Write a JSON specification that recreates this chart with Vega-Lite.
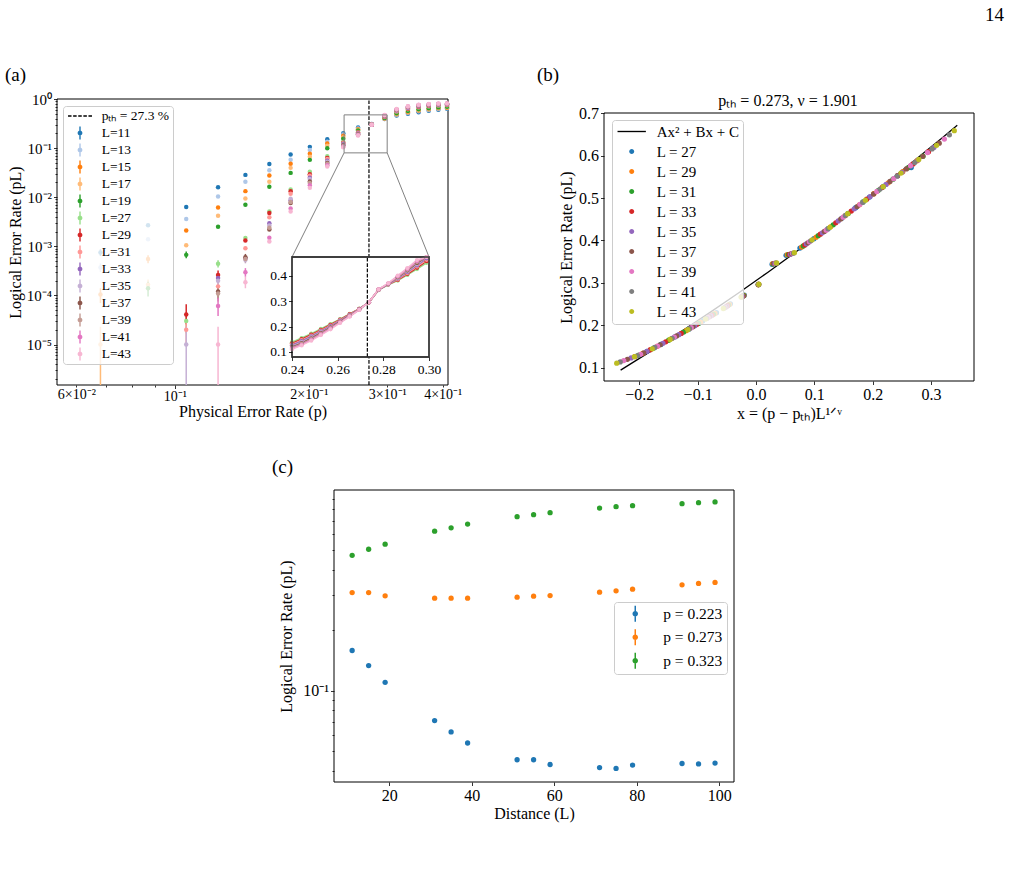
{
"$schema":"https://vega.github.io/schema/vega-lite/v6.json",
"width":1012,"height":872,"autosize":{"type":"none"},"padding":0,"background":"white",
"config":{"font":"Liberation Serif","view":{"stroke":null},
 "axis":{"grid":false,"domain":false,"tickColor":"black","labelColor":"black","titleColor":"black","labelFont":"Liberation Serif","titleFont":"Liberation Serif","titleFontWeight":"normal","tickWidth":0.8,"labelFlush":false,"labelOverlap":false,"labelPadding":2,"tickSize":3.5},
 "legend":{"labelFont":"Liberation Serif","labelColor":"black"}},
"datasets":{
"mainA":[
{"L":11,"p":0.068,"pl":0.00075,"lo":0.00064,"hi":0.00087},{"L":11,"p":0.087,"pl":0.0027},{"L":11,"p":0.106,"pl":0.0063},{"L":11,"p":0.125,"pl":0.016},{"L":11,"p":0.144,"pl":0.0285},{"L":11,"p":0.163,"pl":0.0477},{"L":11,"p":0.182,"pl":0.074},{"L":11,"p":0.201,"pl":0.106},{"L":11,"p":0.22,"pl":0.151},{"L":11,"p":0.239,"pl":0.201},{"L":11,"p":0.258,"pl":0.262},{"L":11,"p":0.277,"pl":0.31},{"L":11,"p":0.296,"pl":0.39},{"L":11,"p":0.315,"pl":0.46},{"L":11,"p":0.334,"pl":0.5},{"L":11,"p":0.353,"pl":0.54},{"L":11,"p":0.372,"pl":0.575},{"L":11,"p":0.391,"pl":0.605},{"L":11,"p":0.409,"pl":0.63},
{"L":13,"p":0.068,"pl":0.00037,"lo":0.0003,"hi":0.00045},{"L":13,"p":0.087,"pl":0.0014},{"L":13,"p":0.106,"pl":0.0036},{"L":13,"p":0.125,"pl":0.0103},{"L":13,"p":0.144,"pl":0.0206},{"L":13,"p":0.163,"pl":0.0355},{"L":13,"p":0.182,"pl":0.058},{"L":13,"p":0.201,"pl":0.092},{"L":13,"p":0.22,"pl":0.135},{"L":13,"p":0.239,"pl":0.19},{"L":13,"p":0.258,"pl":0.252},{"L":13,"p":0.277,"pl":0.306},{"L":13,"p":0.296,"pl":0.395},{"L":13,"p":0.315,"pl":0.475},{"L":13,"p":0.334,"pl":0.52},{"L":13,"p":0.353,"pl":0.56},{"L":13,"p":0.372,"pl":0.595},{"L":13,"p":0.391,"pl":0.625},{"L":13,"p":0.409,"pl":0.65},
{"L":15,"p":0.068,"pl":0.000104,"lo":0.00007,"hi":0.00014},{"L":15,"p":0.087,"pl":0.00055,"lo":0.00045,"hi":0.00066},{"L":15,"p":0.106,"pl":0.0021},{"L":15,"p":0.125,"pl":0.0062},{"L":15,"p":0.144,"pl":0.0133},{"L":15,"p":0.163,"pl":0.0276},{"L":15,"p":0.182,"pl":0.048},{"L":15,"p":0.201,"pl":0.077},{"L":15,"p":0.22,"pl":0.124},{"L":15,"p":0.239,"pl":0.178},{"L":15,"p":0.258,"pl":0.243},{"L":15,"p":0.277,"pl":0.303},{"L":15,"p":0.296,"pl":0.4},{"L":15,"p":0.315,"pl":0.49},{"L":15,"p":0.334,"pl":0.54},{"L":15,"p":0.353,"pl":0.58},{"L":15,"p":0.372,"pl":0.615},{"L":15,"p":0.391,"pl":0.645},{"L":15,"p":0.409,"pl":0.665},
{"L":17,"p":0.068,"pl":0.00001,"lo":0.0000015,"hi":0.000023},{"L":17,"p":0.087,"pl":0.000166,"lo":0.000125,"hi":0.00021},{"L":17,"p":0.106,"pl":0.00105},{"L":17,"p":0.125,"pl":0.0042},{"L":17,"p":0.144,"pl":0.0094},{"L":17,"p":0.163,"pl":0.0206},{"L":17,"p":0.182,"pl":0.0396},{"L":17,"p":0.201,"pl":0.067},{"L":17,"p":0.22,"pl":0.112},{"L":17,"p":0.239,"pl":0.165},{"L":17,"p":0.258,"pl":0.236},{"L":17,"p":0.277,"pl":0.302},{"L":17,"p":0.296,"pl":0.405},{"L":17,"p":0.315,"pl":0.5},{"L":17,"p":0.334,"pl":0.555},{"L":17,"p":0.353,"pl":0.6},{"L":17,"p":0.372,"pl":0.635},{"L":17,"p":0.391,"pl":0.66},{"L":17,"p":0.409,"pl":0.68},
{"L":19,"p":0.087,"pl":0.00014,"lo":0.000095,"hi":0.00019},{"L":19,"p":0.106,"pl":0.00067,"lo":0.00057,"hi":0.00078},{"L":19,"p":0.125,"pl":0.0025},{"L":19,"p":0.144,"pl":0.007},{"L":19,"p":0.163,"pl":0.0163},{"L":19,"p":0.182,"pl":0.0313},{"L":19,"p":0.201,"pl":0.0576},{"L":19,"p":0.22,"pl":0.099},{"L":19,"p":0.239,"pl":0.155},{"L":19,"p":0.258,"pl":0.228},{"L":19,"p":0.277,"pl":0.3},{"L":19,"p":0.296,"pl":0.41},{"L":19,"p":0.315,"pl":0.51},{"L":19,"p":0.334,"pl":0.57},{"L":19,"p":0.353,"pl":0.615},{"L":19,"p":0.372,"pl":0.65},{"L":19,"p":0.391,"pl":0.675},{"L":19,"p":0.409,"pl":0.695},
{"L":27,"p":0.106,"pl":0.00003,"lo":0.000017,"hi":0.000045},{"L":27,"p":0.125,"pl":0.00044,"lo":0.00037,"hi":0.00052},{"L":27,"p":0.144,"pl":0.00148},{"L":27,"p":0.163,"pl":0.0051},{"L":27,"p":0.182,"pl":0.0143},{"L":27,"p":0.201,"pl":0.033},{"L":27,"p":0.22,"pl":0.068},{"L":27,"p":0.239,"pl":0.134},{"L":27,"p":0.258,"pl":0.212},{"L":27,"p":0.277,"pl":0.298},{"L":27,"p":0.296,"pl":0.43},{"L":27,"p":0.315,"pl":0.55},{"L":27,"p":0.334,"pl":0.62},{"L":27,"p":0.353,"pl":0.67},{"L":27,"p":0.372,"pl":0.705},{"L":27,"p":0.391,"pl":0.73},{"L":27,"p":0.409,"pl":0.745},
{"L":29,"p":0.106,"pl":0.000041,"lo":0.000026,"hi":0.000066},{"L":29,"p":0.125,"pl":0.00026,"lo":0.00021,"hi":0.00032},{"L":29,"p":0.144,"pl":0.00132},{"L":29,"p":0.163,"pl":0.00475},{"L":29,"p":0.182,"pl":0.0133},{"L":29,"p":0.201,"pl":0.0295},{"L":29,"p":0.22,"pl":0.063},{"L":29,"p":0.239,"pl":0.129},{"L":29,"p":0.258,"pl":0.207},{"L":29,"p":0.277,"pl":0.299},{"L":29,"p":0.296,"pl":0.435},{"L":29,"p":0.315,"pl":0.56},{"L":29,"p":0.334,"pl":0.635},{"L":29,"p":0.353,"pl":0.685},{"L":29,"p":0.372,"pl":0.72},{"L":29,"p":0.391,"pl":0.745},{"L":29,"p":0.409,"pl":0.76},
{"L":31,"p":0.106,"pl":0.00002,"lo":0.00001,"hi":0.000033},{"L":31,"p":0.125,"pl":0.000153,"lo":0.000115,"hi":0.000195},{"L":31,"p":0.144,"pl":0.00091},{"L":31,"p":0.163,"pl":0.0039},{"L":31,"p":0.182,"pl":0.0118},{"L":31,"p":0.201,"pl":0.0275},{"L":31,"p":0.22,"pl":0.06},{"L":31,"p":0.239,"pl":0.125},{"L":31,"p":0.258,"pl":0.203},{"L":31,"p":0.277,"pl":0.3},{"L":31,"p":0.296,"pl":0.44},{"L":31,"p":0.315,"pl":0.57},{"L":31,"p":0.334,"pl":0.65},{"L":31,"p":0.353,"pl":0.7},{"L":31,"p":0.372,"pl":0.735},{"L":31,"p":0.391,"pl":0.755},{"L":31,"p":0.409,"pl":0.77},
{"L":33,"p":0.125,"pl":0.000227,"lo":0.00018,"hi":0.00028},{"L":33,"p":0.144,"pl":0.00057,"lo":0.00049,"hi":0.00066},{"L":33,"p":0.163,"pl":0.00295},{"L":33,"p":0.182,"pl":0.0087},{"L":33,"p":0.201,"pl":0.025},{"L":33,"p":0.22,"pl":0.055},{"L":33,"p":0.239,"pl":0.121},{"L":33,"p":0.258,"pl":0.199},{"L":33,"p":0.277,"pl":0.3},{"L":33,"p":0.296,"pl":0.445},{"L":33,"p":0.315,"pl":0.58},{"L":33,"p":0.334,"pl":0.66},{"L":33,"p":0.353,"pl":0.715},{"L":33,"p":0.372,"pl":0.745},{"L":33,"p":0.391,"pl":0.765},{"L":33,"p":0.409,"pl":0.78},
{"L":35,"p":0.106,"pl":0.00001,"lo":0.0000015,"hi":0.000023},{"L":35,"p":0.125,"pl":0.0002,"lo":0.000155,"hi":0.00025},{"L":35,"p":0.144,"pl":0.00053,"lo":0.00045,"hi":0.00061},{"L":35,"p":0.163,"pl":0.00266},{"L":35,"p":0.182,"pl":0.0093},{"L":35,"p":0.201,"pl":0.0235},{"L":35,"p":0.22,"pl":0.053},{"L":35,"p":0.239,"pl":0.117},{"L":35,"p":0.258,"pl":0.195},{"L":35,"p":0.277,"pl":0.3},{"L":35,"p":0.296,"pl":0.45},{"L":35,"p":0.315,"pl":0.59},{"L":35,"p":0.334,"pl":0.675},{"L":35,"p":0.353,"pl":0.725},{"L":35,"p":0.372,"pl":0.755},{"L":35,"p":0.391,"pl":0.775},{"L":35,"p":0.409,"pl":0.79},
{"L":37,"p":0.125,"pl":0.00012,"lo":0.000085,"hi":0.00016},{"L":37,"p":0.144,"pl":0.0006,"lo":0.00051,"hi":0.0007},{"L":37,"p":0.163,"pl":0.0022},{"L":37,"p":0.182,"pl":0.0076},{"L":37,"p":0.201,"pl":0.021},{"L":37,"p":0.22,"pl":0.05},{"L":37,"p":0.239,"pl":0.114},{"L":37,"p":0.258,"pl":0.191},{"L":37,"p":0.277,"pl":0.3},{"L":37,"p":0.296,"pl":0.455},{"L":37,"p":0.315,"pl":0.6},{"L":37,"p":0.334,"pl":0.685},{"L":37,"p":0.353,"pl":0.735},{"L":37,"p":0.372,"pl":0.765},{"L":37,"p":0.391,"pl":0.785},{"L":37,"p":0.409,"pl":0.8},
{"L":39,"p":0.125,"pl":0.00011,"lo":0.000075,"hi":0.00015},{"L":39,"p":0.144,"pl":0.00055,"lo":0.00047,"hi":0.00064},{"L":39,"p":0.163,"pl":0.0024},{"L":39,"p":0.182,"pl":0.008},{"L":39,"p":0.201,"pl":0.0195},{"L":39,"p":0.22,"pl":0.048},{"L":39,"p":0.239,"pl":0.11},{"L":39,"p":0.258,"pl":0.188},{"L":39,"p":0.277,"pl":0.3},{"L":39,"p":0.296,"pl":0.46},{"L":39,"p":0.315,"pl":0.605},{"L":39,"p":0.334,"pl":0.695},{"L":39,"p":0.353,"pl":0.745},{"L":39,"p":0.372,"pl":0.775},{"L":39,"p":0.391,"pl":0.795},{"L":39,"p":0.409,"pl":0.805},
{"L":41,"p":0.125,"pl":0.000061,"lo":0.000038,"hi":0.00009},{"L":41,"p":0.144,"pl":0.000295,"lo":0.00024,"hi":0.00036},{"L":41,"p":0.163,"pl":0.0015},{"L":41,"p":0.182,"pl":0.0059},{"L":41,"p":0.201,"pl":0.0175},{"L":41,"p":0.22,"pl":0.045},{"L":41,"p":0.239,"pl":0.107},{"L":41,"p":0.258,"pl":0.184},{"L":41,"p":0.277,"pl":0.3},{"L":41,"p":0.296,"pl":0.465},{"L":41,"p":0.315,"pl":0.615},{"L":41,"p":0.334,"pl":0.705},{"L":41,"p":0.353,"pl":0.755},{"L":41,"p":0.372,"pl":0.785},{"L":41,"p":0.391,"pl":0.8},{"L":41,"p":0.409,"pl":0.81},
{"L":43,"p":0.125,"pl":0.00001,"lo":0.0000015,"hi":0.000023},{"L":43,"p":0.144,"pl":0.000185,"lo":0.00014,"hi":0.00024},{"L":43,"p":0.163,"pl":0.00126},{"L":43,"p":0.182,"pl":0.0051},{"L":43,"p":0.201,"pl":0.0155},{"L":43,"p":0.22,"pl":0.042},{"L":43,"p":0.239,"pl":0.104},{"L":43,"p":0.258,"pl":0.18},{"L":43,"p":0.277,"pl":0.3},{"L":43,"p":0.296,"pl":0.47},{"L":43,"p":0.315,"pl":0.625},{"L":43,"p":0.334,"pl":0.715},{"L":43,"p":0.353,"pl":0.765},{"L":43,"p":0.372,"pl":0.795},{"L":43,"p":0.391,"pl":0.81},{"L":43,"p":0.409,"pl":0.815}
],
"fine":[
{"L":27,"p":0.24,"x":-0.1868,"pl":0.1386},{"L":27,"p":0.24421,"x":-0.163,"pl":0.1549},{"L":27,"p":0.24842,"x":-0.1392,"pl":0.1726},{"L":27,"p":0.25263,"x":-0.1153,"pl":0.1908},{"L":27,"p":0.25684,"x":-0.0915,"pl":0.2102},{"L":27,"p":0.26105,"x":-0.0677,"pl":0.2298},{"L":27,"p":0.26526,"x":-0.0438,"pl":0.2506},{"L":27,"p":0.26947,"x":-0.02,"pl":0.271},{"L":27,"p":0.27368,"x":0.0039,"pl":0.296},{"L":27,"p":0.27789,"x":0.0277,"pl":0.344},{"L":27,"p":0.28211,"x":0.0516,"pl":0.365},{"L":27,"p":0.28632,"x":0.0754,"pl":0.382},{"L":27,"p":0.29053,"x":0.0993,"pl":0.4043},{"L":27,"p":0.29474,"x":0.1231,"pl":0.4273},{"L":27,"p":0.29895,"x":0.1469,"pl":0.4522},{"L":27,"p":0.30316,"x":0.1708,"pl":0.4773},{"L":27,"p":0.30737,"x":0.1946,"pl":0.5023},{"L":27,"p":0.31158,"x":0.2184,"pl":0.5273},{"L":27,"p":0.31579,"x":0.2423,"pl":0.5524},{"L":27,"p":0.32,"x":0.2661,"pl":0.572},
{"L":29,"p":0.24,"x":-0.194,"pl":0.1339},{"L":29,"p":0.24421,"x":-0.1693,"pl":0.1505},{"L":29,"p":0.24842,"x":-0.1445,"pl":0.1686},{"L":29,"p":0.25263,"x":-0.1198,"pl":0.1872},{"L":29,"p":0.25684,"x":-0.095,"pl":0.2073},{"L":29,"p":0.26105,"x":-0.0703,"pl":0.2278},{"L":29,"p":0.26526,"x":-0.0455,"pl":0.2491},{"L":29,"p":0.26947,"x":-0.0208,"pl":0.2703},{"L":29,"p":0.27368,"x":0.004,"pl":0.2955},{"L":29,"p":0.27789,"x":0.0287,"pl":0.3455},{"L":29,"p":0.28211,"x":0.0536,"pl":0.3665},{"L":29,"p":0.28632,"x":0.0783,"pl":0.3845},{"L":29,"p":0.29053,"x":0.1031,"pl":0.4079},{"L":29,"p":0.29474,"x":0.1278,"pl":0.4322},{"L":29,"p":0.29895,"x":0.1526,"pl":0.4582},{"L":29,"p":0.30316,"x":0.1773,"pl":0.4842},{"L":29,"p":0.30737,"x":0.2021,"pl":0.5102},{"L":29,"p":0.31158,"x":0.2268,"pl":0.5361},{"L":29,"p":0.31579,"x":0.2516,"pl":0.5622},{"L":29,"p":0.32,"x":0.2763,"pl":0.5881},
{"L":31,"p":0.24,"x":-0.2009,"pl":0.1296},{"L":31,"p":0.24421,"x":-0.1753,"pl":0.1463},{"L":31,"p":0.24842,"x":-0.1497,"pl":0.1647},{"L":31,"p":0.25263,"x":-0.124,"pl":0.184},{"L":31,"p":0.25684,"x":-0.0984,"pl":0.2044},{"L":31,"p":0.26105,"x":-0.0728,"pl":0.2258},{"L":31,"p":0.26526,"x":-0.0471,"pl":0.2476},{"L":31,"p":0.26947,"x":-0.0215,"pl":0.2697},{"L":31,"p":0.27368,"x":0.0041,"pl":0.2962},{"L":31,"p":0.27789,"x":0.0298,"pl":0.3448},{"L":31,"p":0.28211,"x":0.0555,"pl":0.3668},{"L":31,"p":0.28632,"x":0.0811,"pl":0.387},{"L":31,"p":0.29053,"x":0.1067,"pl":0.4114},{"L":31,"p":0.29474,"x":0.1324,"pl":0.437},{"L":31,"p":0.29895,"x":0.158,"pl":0.4639},{"L":31,"p":0.30316,"x":0.1836,"pl":0.4908},{"L":31,"p":0.30737,"x":0.2093,"pl":0.5178},{"L":31,"p":0.31158,"x":0.2349,"pl":0.5446},{"L":31,"p":0.31579,"x":0.2605,"pl":0.5715},{"L":31,"p":0.32,"x":0.2862,"pl":0.5988},
{"L":33,"p":0.24,"x":-0.2076,"pl":0.1262},{"L":33,"p":0.24421,"x":-0.1811,"pl":0.1423},{"L":33,"p":0.24842,"x":-0.1547,"pl":0.161},{"L":33,"p":0.25263,"x":-0.1282,"pl":0.1809},{"L":33,"p":0.25684,"x":-0.1017,"pl":0.2016},{"L":33,"p":0.26105,"x":-0.0752,"pl":0.2238},{"L":33,"p":0.26526,"x":-0.0487,"pl":0.2462},{"L":33,"p":0.26947,"x":-0.0222,"pl":0.269},{"L":33,"p":0.27368,"x":0.0043,"pl":0.2965},{"L":33,"p":0.27789,"x":0.0308,"pl":0.3455},{"L":33,"p":0.28211,"x":0.0573,"pl":0.3672},{"L":33,"p":0.28632,"x":0.0838,"pl":0.3896},{"L":33,"p":0.29053,"x":0.1103,"pl":0.4148},{"L":33,"p":0.29474,"x":0.1368,"pl":0.4416},{"L":33,"p":0.29895,"x":0.1633,"pl":0.4695},{"L":33,"p":0.30316,"x":0.1898,"pl":0.4973},{"L":33,"p":0.30737,"x":0.2163,"pl":0.5251},{"L":33,"p":0.31158,"x":0.2427,"pl":0.5528},{"L":33,"p":0.31579,"x":0.2692,"pl":0.5807},{"L":33,"p":0.32,"x":0.2957,"pl":0.6093},
{"L":35,"p":0.24,"x":-0.2141,"pl":0.123},{"L":35,"p":0.24421,"x":-0.1868,"pl":0.1386},{"L":35,"p":0.24842,"x":-0.1595,"pl":0.1574},{"L":35,"p":0.25263,"x":-0.1322,"pl":0.1779},{"L":35,"p":0.25684,"x":-0.1049,"pl":0.1991},{"L":35,"p":0.26105,"x":-0.0775,"pl":0.222},{"L":35,"p":0.26526,"x":-0.0502,"pl":0.2448},{"L":35,"p":0.26947,"x":-0.0229,"pl":0.2685},{"L":35,"p":0.27368,"x":0.0044,"pl":0.296},{"L":35,"p":0.27789,"x":0.0317,"pl":0.346},{"L":35,"p":0.28211,"x":0.0591,"pl":0.3675},{"L":35,"p":0.28632,"x":0.0864,"pl":0.3921},{"L":35,"p":0.29053,"x":0.1138,"pl":0.4181},{"L":35,"p":0.29474,"x":0.1411,"pl":0.4462},{"L":35,"p":0.29895,"x":0.1684,"pl":0.4748},{"L":35,"p":0.30316,"x":0.1957,"pl":0.5035},{"L":35,"p":0.30737,"x":0.223,"pl":0.5322},{"L":35,"p":0.31158,"x":0.2503,"pl":0.5608},{"L":35,"p":0.31579,"x":0.2777,"pl":0.5896},{"L":35,"p":0.32,"x":0.305,"pl":0.6195},
{"L":37,"p":0.24,"x":-0.2205,"pl":0.1198},{"L":37,"p":0.24421,"x":-0.1924,"pl":0.1349},{"L":37,"p":0.24842,"x":-0.1643,"pl":0.154},{"L":37,"p":0.25263,"x":-0.1361,"pl":0.1749},{"L":37,"p":0.25684,"x":-0.108,"pl":0.1966},{"L":37,"p":0.26105,"x":-0.0799,"pl":0.2202},{"L":37,"p":0.26526,"x":-0.0517,"pl":0.2434},{"L":37,"p":0.26947,"x":-0.0236,"pl":0.268},{"L":37,"p":0.27368,"x":0.0045,"pl":0.2962},{"L":37,"p":0.27789,"x":0.0327,"pl":0.3462},{"L":37,"p":0.28211,"x":0.0609,"pl":0.3688},{"L":37,"p":0.28632,"x":0.089,"pl":0.3946},{"L":37,"p":0.29053,"x":0.1172,"pl":0.4213},{"L":37,"p":0.29474,"x":0.1453,"pl":0.4506},{"L":37,"p":0.29895,"x":0.1734,"pl":0.4801},{"L":37,"p":0.30316,"x":0.2016,"pl":0.5097},{"L":37,"p":0.30737,"x":0.2297,"pl":0.5392},{"L":37,"p":0.31158,"x":0.2578,"pl":0.5687},{"L":37,"p":0.31579,"x":0.286,"pl":0.5986},{"L":37,"p":0.32,"x":0.3141,"pl":0.6295},
{"L":39,"p":0.24,"x":-0.2267,"pl":0.1167},{"L":39,"p":0.24421,"x":-0.1978,"pl":0.1314},{"L":39,"p":0.24842,"x":-0.1689,"pl":0.1508},{"L":39,"p":0.25263,"x":-0.1399,"pl":0.1721},{"L":39,"p":0.25684,"x":-0.111,"pl":0.1942},{"L":39,"p":0.26105,"x":-0.0821,"pl":0.2182},{"L":39,"p":0.26526,"x":-0.0532,"pl":0.2421},{"L":39,"p":0.26947,"x":-0.0243,"pl":0.2675},{"L":39,"p":0.27368,"x":0.0047,"pl":0.2965},{"L":39,"p":0.27789,"x":0.0336,"pl":0.3465},{"L":39,"p":0.28211,"x":0.0626,"pl":0.3695},{"L":39,"p":0.28632,"x":0.0915,"pl":0.3969},{"L":39,"p":0.29053,"x":0.1204,"pl":0.4244},{"L":39,"p":0.29474,"x":0.1494,"pl":0.4549},{"L":39,"p":0.29895,"x":0.1783,"pl":0.4852},{"L":39,"p":0.30316,"x":0.2072,"pl":0.5156},{"L":39,"p":0.30737,"x":0.2361,"pl":0.5459},{"L":39,"p":0.31158,"x":0.265,"pl":0.5763},{"L":39,"p":0.31579,"x":0.294,"pl":0.6074},{"L":39,"p":0.32,"x":0.3229,"pl":0.6393},
{"L":41,"p":0.24,"x":-0.2327,"pl":0.1137},{"L":41,"p":0.24421,"x":-0.2031,"pl":0.1283},{"L":41,"p":0.24842,"x":-0.1734,"pl":0.1476},{"L":41,"p":0.25263,"x":-0.1437,"pl":0.1692},{"L":41,"p":0.25684,"x":-0.114,"pl":0.1918},{"L":41,"p":0.26105,"x":-0.0843,"pl":0.2163},{"L":41,"p":0.26526,"x":-0.0546,"pl":0.2409},{"L":41,"p":0.26947,"x":-0.0249,"pl":0.267},{"L":41,"p":0.27368,"x":0.0048,"pl":0.2965},{"L":41,"p":0.27789,"x":0.0345,"pl":0.3468},{"L":41,"p":0.28211,"x":0.0643,"pl":0.37},{"L":41,"p":0.28632,"x":0.0939,"pl":0.3992},{"L":41,"p":0.29053,"x":0.1236,"pl":0.4278},{"L":41,"p":0.29474,"x":0.1533,"pl":0.459},{"L":41,"p":0.29895,"x":0.183,"pl":0.4902},{"L":41,"p":0.30316,"x":0.2127,"pl":0.5213},{"L":41,"p":0.30737,"x":0.2424,"pl":0.5525},{"L":41,"p":0.31158,"x":0.2721,"pl":0.5837},{"L":41,"p":0.31579,"x":0.3018,"pl":0.616},{"L":41,"p":0.32,"x":0.3315,"pl":0.6492},
{"L":43,"p":0.24,"x":-0.2387,"pl":0.1107},{"L":43,"p":0.24421,"x":-0.2082,"pl":0.1259},{"L":43,"p":0.24842,"x":-0.1778,"pl":0.1445},{"L":43,"p":0.25263,"x":-0.1473,"pl":0.1665},{"L":43,"p":0.25684,"x":-0.1169,"pl":0.1895},{"L":43,"p":0.26105,"x":-0.0864,"pl":0.2146},{"L":43,"p":0.26526,"x":-0.056,"pl":0.2396},{"L":43,"p":0.26947,"x":-0.0255,"pl":0.2665},{"L":43,"p":0.27368,"x":0.0049,"pl":0.2968},{"L":43,"p":0.27789,"x":0.0354,"pl":0.347},{"L":43,"p":0.28211,"x":0.0659,"pl":0.3713},{"L":43,"p":0.28632,"x":0.0963,"pl":0.4015},{"L":43,"p":0.29053,"x":0.1268,"pl":0.4311},{"L":43,"p":0.29474,"x":0.1572,"pl":0.4631},{"L":43,"p":0.29895,"x":0.1877,"pl":0.4951},{"L":43,"p":0.30316,"x":0.2181,"pl":0.527},{"L":43,"p":0.30737,"x":0.2486,"pl":0.559},{"L":43,"p":0.31158,"x":0.279,"pl":0.591},{"L":43,"p":0.31579,"x":0.3095,"pl":0.6245},{"L":43,"p":0.32,"x":0.3399,"pl":0.6589}
],
"fit":[{"x":-0.232,"y":0.0943},{"x":-0.18,"y":0.1391},{"x":-0.13,"y":0.1835},{"x":-0.08,"y":0.2292},{"x":-0.03,"y":0.2763},{"x":0.02,"y":0.3247},{"x":0.07,"y":0.3745},{"x":0.12,"y":0.4255},{"x":0.17,"y":0.478},{"x":0.22,"y":0.5317},{"x":0.27,"y":0.5869},{"x":0.32,"y":0.6432},{"x":0.345,"y":0.672}],
"dist":[
{"p":0.223,"L":11,"pl":0.1585},{"p":0.223,"L":15,"pl":0.1334},{"p":0.223,"L":19,"pl":0.1101},{"p":0.223,"L":31,"pl":0.0711},{"p":0.223,"L":35,"pl":0.0624},{"p":0.223,"L":39,"pl":0.055},{"p":0.223,"L":51,"pl":0.0454},{"p":0.223,"L":55,"pl":0.0454},{"p":0.223,"L":59,"pl":0.043},{"p":0.223,"L":71,"pl":0.0415},{"p":0.223,"L":75,"pl":0.0411},{"p":0.223,"L":79,"pl":0.0427},{"p":0.223,"L":91,"pl":0.0435},{"p":0.223,"L":95,"pl":0.0433},{"p":0.223,"L":99,"pl":0.0437},
{"p":0.273,"L":11,"pl":0.3077},{"p":0.273,"L":15,"pl":0.3077},{"p":0.273,"L":19,"pl":0.2963},{"p":0.273,"L":31,"pl":0.2884},{"p":0.273,"L":35,"pl":0.2884},{"p":0.273,"L":39,"pl":0.2884},{"p":0.273,"L":51,"pl":0.2917},{"p":0.273,"L":55,"pl":0.2951},{"p":0.273,"L":59,"pl":0.2974},{"p":0.273,"L":71,"pl":0.309},{"p":0.273,"L":75,"pl":0.3138},{"p":0.273,"L":79,"pl":0.3199},{"p":0.273,"L":91,"pl":0.3363},{"p":0.273,"L":95,"pl":0.3415},{"p":0.273,"L":99,"pl":0.3455},
{"p":0.323,"L":11,"pl":0.4713},{"p":0.323,"L":15,"pl":0.505},{"p":0.323,"L":19,"pl":0.535},{"p":0.323,"L":31,"pl":0.6214},{"p":0.323,"L":35,"pl":0.6457},{"p":0.323,"L":39,"pl":0.6737},{"p":0.323,"L":51,"pl":0.7328},{"p":0.323,"L":55,"pl":0.7499},{"p":0.323,"L":59,"pl":0.7674},{"p":0.323,"L":71,"pl":0.8094},{"p":0.323,"L":75,"pl":0.8222},{"p":0.323,"L":79,"pl":0.8318},{"p":0.323,"L":91,"pl":0.8511},{"p":0.323,"L":95,"pl":0.861},{"p":0.323,"L":99,"pl":0.8677}
],
"legA":[{"s":"pₜₕ = 27.3 %"},{"s":"L=11"},{"s":"L=13"},{"s":"L=15"},{"s":"L=17"},{"s":"L=19"},{"s":"L=27"},{"s":"L=29"},{"s":"L=31"},{"s":"L=33"},{"s":"L=35"},{"s":"L=37"},{"s":"L=39"},{"s":"L=41"},{"s":"L=43"}],
"legB":[{"s":"Ax² + Bx + C"},{"s":"L = 27"},{"s":"L = 29"},{"s":"L = 31"},{"s":"L = 33"},{"s":"L = 35"},{"s":"L = 37"},{"s":"L = 39"},{"s":"L = 41"},{"s":"L = 43"}],
"legC":[{"s":"p = 0.223"},{"s":"p = 0.273"},{"s":"p = 0.323"}]
},
"layer":[
{"layer":[
 {"data":{"values":[{}]},"mark":{"type":"rect","fill":"transparent","stroke":"black","strokeWidth":1},
  "encoding":{
   "x":{"datum":0.0543,"type":"quantitative","scale":{"type":"log","domain":[0.0543,0.411],"range":[57,448],"nice":false},
     "axis":{"orient":"bottom","offset":-487,"values":[0.06,0.07,0.08,0.09,0.1,0.2,0.3,0.4],"labelExpr":"datum.value==0.06?'6×10⁻²':datum.value==0.1?'10⁻¹':datum.value==0.2?'2×10⁻¹':datum.value==0.3?'3×10⁻¹':datum.value==0.4?'4×10⁻¹':''","tickSize":{"condition":{"test":"datum.value==0.1","value":3.5},"value":2},"title":"Physical Error Rate (p)","labelFontSize":14,"titleFontSize":16,"labelPadding":0.5,"titlePadding":0}},
   "x2":{"datum":0.411},
   "y":{"datum":0.0000015,"type":"quantitative","scale":{"type":"log","domain":[0.0000015,1],"range":[385,99],"nice":false},
     "axis":{"orient":"left","offset":-57,"values":[2e-6,3e-6,4e-6,5e-6,6e-6,7e-6,8e-6,9e-6,1e-5,2e-5,3e-5,4e-5,5e-5,6e-5,7e-5,8e-5,9e-5,1e-4,2e-4,3e-4,4e-4,5e-4,6e-4,7e-4,8e-4,9e-4,0.001,0.002,0.003,0.004,0.005,0.006,0.007,0.008,0.009,0.01,0.02,0.03,0.04,0.05,0.06,0.07,0.08,0.09,0.1,0.2,0.3,0.4,0.5,0.6,0.7,0.8,0.9,1],
       "labelExpr":"datum.value==1e-5?'10⁻⁵':datum.value==1e-4?'10⁻⁴':datum.value==0.001?'10⁻³':datum.value==0.01?'10⁻²':datum.value==0.1?'10⁻¹':datum.value==1?'10⁰':''",
       "tickSize":{"condition":{"test":"datum.value==1e-5||datum.value==1e-4||datum.value==0.001||datum.value==0.01||datum.value==0.1||datum.value==1","value":3.5},"value":2},
       "title":"Logical Error Rate (pL)","labelFontSize":15,"titleFontSize":16,"titlePadding":3}},
   "y2":{"datum":1}}},
 {"data":{"values":[{}]},"mark":{"type":"rule","color":"black","strokeWidth":1.2,"strokeDash":[3.7,1.6]},
  "encoding":{"x":{"datum":0.273,"type":"quantitative","scale":{"type":"log","domain":[0.0543,0.411],"range":[57,448],"nice":false}},
   "y":{"datum":0.0000015,"type":"quantitative","scale":{"type":"log","domain":[0.0000015,1],"range":[385,99],"nice":false}},"y2":{"datum":1}}},
 {"data":{"name":"mainA"},"transform":[{"filter":"isValid(datum.lo)"}],"mark":{"type":"rule","strokeWidth":1.5},
  "encoding":{"x":{"field":"p","type":"quantitative","scale":{"type":"log","domain":[0.0543,0.411],"range":[57,448],"nice":false}},
   "y":{"field":"lo","type":"quantitative","scale":{"type":"log","domain":[0.0000015,1],"range":[385,99],"nice":false}},"y2":{"field":"hi"},
   "stroke":{"field":"L","type":"nominal","scale":{"domain":[11,13,15,17,19,27,29,31,33,35,37,39,41,43],"range":["#1f77b4","#aec7e8","#ff7f0e","#ffbb78","#2ca02c","#98df8a","#d62728","#ff9896","#9467bd","#c5b0d5","#8c564b","#c49c94","#e377c2","#f7b6d2"]},"legend":null}}},
 {"data":{"name":"mainA"},"mark":{"type":"point","filled":true,"size":20,"opacity":1},
  "encoding":{"x":{"field":"p","type":"quantitative","scale":{"type":"log","domain":[0.0543,0.411],"range":[57,448],"nice":false}},
   "y":{"field":"pl","type":"quantitative","scale":{"type":"log","domain":[0.0000015,1],"range":[385,99],"nice":false}},
   "fill":{"field":"L","type":"nominal","scale":{"domain":[11,13,15,17,19,27,29,31,33,35,37,39,41,43],"range":["#1f77b4","#aec7e8","#ff7f0e","#ffbb78","#2ca02c","#98df8a","#d62728","#ff9896","#9467bd","#c5b0d5","#8c564b","#c49c94","#e377c2","#f7b6d2"]},"legend":null}}},
 {"data":{"values":[{}]},"mark":{"type":"rect","fill":"transparent","stroke":"#808080","strokeWidth":1},
  "encoding":{"x":{"datum":0.24,"type":"quantitative","scale":{"type":"log","domain":[0.0543,0.411],"range":[57,448],"nice":false}},"x2":{"datum":0.30},
   "y":{"datum":0.08,"type":"quantitative","scale":{"type":"log","domain":[0.0000015,1],"range":[385,99],"nice":false}},"y2":{"datum":0.475}}},
 {"data":{"values":[{}]},"mark":{"type":"rule","color":"#808080","strokeWidth":1},
  "encoding":{"x":{"datum":0.24,"type":"quantitative","scale":{"type":"log","domain":[0.0543,0.411],"range":[57,448],"nice":false}},"x2":{"datum":0.1833},
   "y":{"datum":0.08,"type":"quantitative","scale":{"type":"log","domain":[0.0000015,1],"range":[385,99],"nice":false}},"y2":{"datum":0.000605}}},
 {"data":{"values":[{}]},"mark":{"type":"rule","color":"#808080","strokeWidth":1},
  "encoding":{"x":{"datum":0.30,"type":"quantitative","scale":{"type":"log","domain":[0.0543,0.411],"range":[57,448],"nice":false}},"x2":{"datum":0.3726},
   "y":{"datum":0.08,"type":"quantitative","scale":{"type":"log","domain":[0.0000015,1],"range":[385,99],"nice":false}},"y2":{"datum":0.000605}}},
 {"data":{"name":"legA"},"mark":{"type":"point","filled":true,"opacity":0},
  "encoding":{
   "color":{"field":"s","type":"nominal","scale":{"domain":["pₜₕ = 27.3 %","L=11","L=13","L=15","L=17","L=19","L=27","L=29","L=31","L=33","L=35","L=37","L=39","L=41","L=43"],"range":["black","#1f77b4","#aec7e8","#ff7f0e","#ffbb78","#2ca02c","#98df8a","#d62728","#ff9896","#9467bd","#c5b0d5","#8c564b","#c49c94","#e377c2","#f7b6d2"]},
     "legend":{"orient":"none","legendX":63,"legendY":106,"title":null,"padding":3,"symbolSize":196,"symbolOffset":7,"labelOffset":14.7,"rowPadding":3,"labelFontSize":13.5,"fillColor":"rgba(255,255,255,0.8)","strokeColor":"#cccccc","cornerRadius":3,"symbolOpacity":1,"symbolStrokeWidth":0}},
   "shape":{"field":"s","type":"nominal","scale":{"domain":["pₜₕ = 27.3 %","L=11","L=13","L=15","L=17","L=19","L=27","L=29","L=31","L=33","L=35","L=37","L=39","L=41","L=43"],"range":["M-1.71,-0.09H-1.21V0.09H-1.71ZM-0.98,-0.09H-0.48V0.09H-0.98ZM-0.25,-0.09H0.25V0.09H-0.25ZM0.48,-0.09H0.98V0.09H0.48ZM1.21,-0.09H1.71V0.09H1.21Z","M-0.34,0A0.34,0.34 0 0 1 0.34,0A0.34,0.34 0 0 1 -0.34,0ZM-0.1,-0.93H0.1V0.93H-0.1Z","M-0.34,0A0.34,0.34 0 0 1 0.34,0A0.34,0.34 0 0 1 -0.34,0ZM-0.1,-0.93H0.1V0.93H-0.1Z","M-0.34,0A0.34,0.34 0 0 1 0.34,0A0.34,0.34 0 0 1 -0.34,0ZM-0.1,-0.93H0.1V0.93H-0.1Z","M-0.34,0A0.34,0.34 0 0 1 0.34,0A0.34,0.34 0 0 1 -0.34,0ZM-0.1,-0.93H0.1V0.93H-0.1Z","M-0.34,0A0.34,0.34 0 0 1 0.34,0A0.34,0.34 0 0 1 -0.34,0ZM-0.1,-0.93H0.1V0.93H-0.1Z","M-0.34,0A0.34,0.34 0 0 1 0.34,0A0.34,0.34 0 0 1 -0.34,0ZM-0.1,-0.93H0.1V0.93H-0.1Z","M-0.34,0A0.34,0.34 0 0 1 0.34,0A0.34,0.34 0 0 1 -0.34,0ZM-0.1,-0.93H0.1V0.93H-0.1Z","M-0.34,0A0.34,0.34 0 0 1 0.34,0A0.34,0.34 0 0 1 -0.34,0ZM-0.1,-0.93H0.1V0.93H-0.1Z","M-0.34,0A0.34,0.34 0 0 1 0.34,0A0.34,0.34 0 0 1 -0.34,0ZM-0.1,-0.93H0.1V0.93H-0.1Z","M-0.34,0A0.34,0.34 0 0 1 0.34,0A0.34,0.34 0 0 1 -0.34,0ZM-0.1,-0.93H0.1V0.93H-0.1Z","M-0.34,0A0.34,0.34 0 0 1 0.34,0A0.34,0.34 0 0 1 -0.34,0ZM-0.1,-0.93H0.1V0.93H-0.1Z","M-0.34,0A0.34,0.34 0 0 1 0.34,0A0.34,0.34 0 0 1 -0.34,0ZM-0.1,-0.93H0.1V0.93H-0.1Z","M-0.34,0A0.34,0.34 0 0 1 0.34,0A0.34,0.34 0 0 1 -0.34,0ZM-0.1,-0.93H0.1V0.93H-0.1Z","M-0.34,0A0.34,0.34 0 0 1 0.34,0A0.34,0.34 0 0 1 -0.34,0ZM-0.1,-0.93H0.1V0.93H-0.1Z"]},
     "legend":{"orient":"none","legendX":63,"legendY":106,"title":null,"padding":3,"symbolSize":196,"symbolOffset":7,"labelOffset":14.7,"rowPadding":3,"labelFontSize":13.5,"fillColor":"rgba(255,255,255,0.8)","strokeColor":"#cccccc","cornerRadius":3,"symbolOpacity":1,"symbolStrokeWidth":0}}}}
]},
{"layer":[
 {"data":{"values":[{}]},"mark":{"type":"rect","fill":"white","stroke":"#333333","strokeWidth":1.3},
  "encoding":{"x":{"datum":0.24,"type":"quantitative","scale":{"type":"linear","domain":[0.24,0.30],"range":[292,429],"nice":false,"zero":false},
     "axis":{"orient":"bottom","offset":-515,"values":[0.24,0.26,0.28,0.30],"format":".2f","title":null,"labelFontSize":13.5,"zindex":1}},
   "x2":{"datum":0.30},
   "y":{"datum":0.08,"type":"quantitative","scale":{"type":"linear","domain":[0.08,0.475],"range":[357,257],"nice":false,"zero":false,"clamp":true},
     "axis":{"orient":"left","offset":-292,"values":[0.1,0.2,0.3,0.4],"format":".1f","title":null,"labelFontSize":13.5,"zindex":1}},
   "y2":{"datum":0.475}}},
 {"data":{"name":"fine"},"transform":[{"filter":"datum.p <= 0.3"}],"mark":{"type":"line","strokeWidth":1.5},
  "encoding":{"x":{"field":"p","type":"quantitative","scale":{"type":"linear","domain":[0.24,0.30],"range":[292,429],"nice":false,"zero":false}},
   "y":{"field":"pl","type":"quantitative","scale":{"type":"linear","domain":[0.08,0.475],"range":[357,257],"nice":false,"zero":false,"clamp":true}},
   "stroke":{"field":"L","type":"nominal","scale":{"domain":[27,29,31,33,35,37,39,41,43],"range":["#98df8a","#d62728","#ff9896","#9467bd","#c5b0d5","#8c564b","#c49c94","#e377c2","#f7b6d2"]},"legend":null}}},
 {"data":{"name":"fine"},"transform":[{"filter":"datum.p <= 0.3"}],"mark":{"type":"point","filled":true,"size":18,"opacity":1},
  "encoding":{"x":{"field":"p","type":"quantitative","scale":{"type":"linear","domain":[0.24,0.30],"range":[292,429],"nice":false,"zero":false}},
   "y":{"field":"pl","type":"quantitative","scale":{"type":"linear","domain":[0.08,0.475],"range":[357,257],"nice":false,"zero":false,"clamp":true}},
   "fill":{"field":"L","type":"nominal","scale":{"domain":[27,29,31,33,35,37,39,41,43],"range":["#98df8a","#d62728","#ff9896","#9467bd","#c5b0d5","#8c564b","#c49c94","#e377c2","#f7b6d2"]},"legend":null}}},
 {"data":{"values":[{}]},"mark":{"type":"rule","color":"black","strokeWidth":1.2,"strokeDash":[3.7,1.6]},
  "encoding":{"x":{"datum":0.273,"type":"quantitative","scale":{"type":"linear","domain":[0.24,0.30],"range":[292,429],"nice":false,"zero":false}},
   "y":{"datum":0.08,"type":"quantitative","scale":{"type":"linear","domain":[0.08,0.475],"range":[357,257],"nice":false,"zero":false,"clamp":true}},"y2":{"datum":0.475}}},
 {"data":{"values":[{}]},"mark":{"type":"rect","fill":"transparent","stroke":"#333333","strokeWidth":1.3},
  "encoding":{"x":{"datum":0.24,"type":"quantitative","scale":{"type":"linear","domain":[0.24,0.30],"range":[292,429],"nice":false,"zero":false}},"x2":{"datum":0.30},
   "y":{"datum":0.08,"type":"quantitative","scale":{"type":"linear","domain":[0.08,0.475],"range":[357,257],"nice":false,"zero":false,"clamp":true}},"y2":{"datum":0.475}}}
]},
{"layer":[
 {"data":{"values":[{}]},"mark":{"type":"rect","fill":"transparent","stroke":"black","strokeWidth":1},
  "encoding":{"x":{"datum":-0.2605,"type":"quantitative","scale":{"type":"linear","domain":[-0.2605,0.3737],"range":[604,974],"nice":false,"zero":false},
     "axis":{"orient":"bottom","offset":-491,"values":[-0.2,-0.1,0,0.1,0.2,0.3],"format":".1f","labelExpr":"replace(datum.label,'-','−')","title":"x = (p − pₜₕ)L¹ᐟᵛ","labelFontSize":16,"titleFontSize":16,"titlePadding":3}},
   "x2":{"datum":0.3737},
   "y":{"datum":0.0686,"type":"quantitative","scale":{"type":"linear","domain":[0.0686,0.7007],"range":[381,113],"nice":false,"zero":false},
     "axis":{"orient":"left","offset":-604,"values":[0.1,0.2,0.3,0.4,0.5,0.6,0.7],"format":".1f","title":"Logical Error Rate (pL)","labelFontSize":16,"titleFontSize":16,"titlePadding":4}},
   "y2":{"datum":0.7007}}},
 {"data":{"name":"fit"},"mark":{"type":"line","color":"black","strokeWidth":1.3},
  "encoding":{"x":{"field":"x","type":"quantitative","scale":{"type":"linear","domain":[-0.2605,0.3737],"range":[604,974],"nice":false,"zero":false}},
   "y":{"field":"y","type":"quantitative","scale":{"type":"linear","domain":[0.0686,0.7007],"range":[381,113],"nice":false,"zero":false}}}},
 {"data":{"name":"fine"},"mark":{"type":"point","filled":true,"size":28,"opacity":1},
  "encoding":{"x":{"field":"x","type":"quantitative","scale":{"type":"linear","domain":[-0.2605,0.3737],"range":[604,974],"nice":false,"zero":false}},
   "y":{"field":"pl","type":"quantitative","scale":{"type":"linear","domain":[0.0686,0.7007],"range":[381,113],"nice":false,"zero":false}},
   "fill":{"field":"L","type":"nominal","scale":{"domain":[27,29,31,33,35,37,39,41,43],"range":["#1f77b4","#ff7f0e","#2ca02c","#d62728","#9467bd","#8c564b","#e377c2","#7f7f7f","#bcbd22"]},"legend":null}}},
 {"data":{"name":"legB"},"mark":{"type":"point","filled":true,"opacity":0},
  "encoding":{
   "color":{"field":"s","type":"nominal","scale":{"domain":["Ax² + Bx + C","L = 27","L = 29","L = 31","L = 33","L = 35","L = 37","L = 39","L = 41","L = 43"],"range":["black","#1f77b4","#ff7f0e","#2ca02c","#d62728","#9467bd","#8c564b","#e377c2","#7f7f7f","#bcbd22"]},
     "legend":{"orient":"none","legendX":612,"legendY":120,"title":null,"padding":4,"symbolSize":225,"symbolOffset":8.2,"labelOffset":17.5,"rowPadding":4,"labelFontSize":15,"fillColor":"rgba(255,255,255,0.8)","strokeColor":"#cccccc","cornerRadius":3,"symbolOpacity":1,"symbolStrokeWidth":0}},
   "shape":{"field":"s","type":"nominal","scale":{"domain":["Ax² + Bx + C","L = 27","L = 29","L = 31","L = 33","L = 35","L = 37","L = 39","L = 41","L = 43"],"range":["M-1.89,-0.09H1.89V0.09H-1.89Z","M-0.33,0A0.33,0.33 0 0 1 0.33,0A0.33,0.33 0 0 1 -0.33,0Z","M-0.33,0A0.33,0.33 0 0 1 0.33,0A0.33,0.33 0 0 1 -0.33,0Z","M-0.33,0A0.33,0.33 0 0 1 0.33,0A0.33,0.33 0 0 1 -0.33,0Z","M-0.33,0A0.33,0.33 0 0 1 0.33,0A0.33,0.33 0 0 1 -0.33,0Z","M-0.33,0A0.33,0.33 0 0 1 0.33,0A0.33,0.33 0 0 1 -0.33,0Z","M-0.33,0A0.33,0.33 0 0 1 0.33,0A0.33,0.33 0 0 1 -0.33,0Z","M-0.33,0A0.33,0.33 0 0 1 0.33,0A0.33,0.33 0 0 1 -0.33,0Z","M-0.33,0A0.33,0.33 0 0 1 0.33,0A0.33,0.33 0 0 1 -0.33,0Z","M-0.33,0A0.33,0.33 0 0 1 0.33,0A0.33,0.33 0 0 1 -0.33,0Z"]},
     "legend":{"orient":"none","legendX":612,"legendY":120,"title":null,"padding":4,"symbolSize":225,"symbolOffset":8.2,"labelOffset":17.5,"rowPadding":4,"labelFontSize":15,"fillColor":"rgba(255,255,255,0.8)","strokeColor":"#cccccc","cornerRadius":3,"symbolOpacity":1,"symbolStrokeWidth":0}}}},
 {"data":{"values":[{}]},"mark":{"type":"text","text":"(a)","align":"left","baseline":"middle","fontSize":19},
  "encoding":{"x":{"datum":-1.2873,"type":"quantitative","scale":{"type":"linear","domain":[-0.2605,0.3737],"range":[604,974],"nice":false,"zero":false}},"y":{"datum":0.7903,"type":"quantitative","scale":{"type":"linear","domain":[0.0686,0.7007],"range":[381,113],"nice":false,"zero":false}}}},
 {"data":{"values":[{}]},"mark":{"type":"text","text":"(b)","align":"left","baseline":"middle","fontSize":19},
  "encoding":{"x":{"datum":-0.3753,"type":"quantitative","scale":{"type":"linear","domain":[-0.2605,0.3737],"range":[604,974],"nice":false,"zero":false}},"y":{"datum":0.7903,"type":"quantitative","scale":{"type":"linear","domain":[0.0686,0.7007],"range":[381,113],"nice":false,"zero":false}}}},
 {"data":{"values":[{}]},"mark":{"type":"text","text":"(c)","align":"left","baseline":"middle","fontSize":19},
  "encoding":{"x":{"datum":-0.8296,"type":"quantitative","scale":{"type":"linear","domain":[-0.2605,0.3737],"range":[604,974],"nice":false,"zero":false}},"y":{"datum":-0.1342,"type":"quantitative","scale":{"type":"linear","domain":[0.0686,0.7007],"range":[381,113],"nice":false,"zero":false}}}},
 {"data":{"values":[{}]},"mark":{"type":"text","text":"14","align":"right","baseline":"middle","fontSize":19},
  "encoding":{"x":{"datum":0.4251,"type":"quantitative","scale":{"type":"linear","domain":[-0.2605,0.3737],"range":[604,974],"nice":false,"zero":false}},"y":{"datum":0.9318,"type":"quantitative","scale":{"type":"linear","domain":[0.0686,0.7007],"range":[381,113],"nice":false,"zero":false}}}},
 {"data":{"values":[{}]},"mark":{"type":"text","text":"pₜₕ = 0.273, ν = 1.901","align":"center","baseline":"middle","fontSize":16},
  "encoding":{"x":{"datum":0.0549,"type":"quantitative","scale":{"type":"linear","domain":[-0.2605,0.3737],"range":[604,974],"nice":false,"zero":false}},"y":{"datum":0.729,"type":"quantitative","scale":{"type":"linear","domain":[0.0686,0.7007],"range":[381,113],"nice":false,"zero":false}}}}
]},
{"layer":[
 {"data":{"values":[{}]},"mark":{"type":"rect","fill":"transparent","stroke":"black","strokeWidth":1},
  "encoding":{"x":{"datum":6.6,"type":"quantitative","scale":{"type":"linear","domain":[6.6,103.6],"range":[334,734],"nice":false,"zero":false},
     "axis":{"orient":"bottom","offset":-90,"values":[20,40,60,80,100],"title":"Distance (L)","labelFontSize":16,"titleFontSize":16,"titlePadding":2}},
   "x2":{"datum":103.6},
   "y":{"datum":0.0352,"type":"quantitative","scale":{"type":"log","domain":[0.0352,0.995],"range":[782,490],"nice":false},
     "axis":{"orient":"left","offset":-334,"values":[0.04,0.05,0.06,0.07,0.08,0.09,0.1,0.2,0.3,0.4,0.5,0.6,0.7,0.8,0.9],"labelExpr":"datum.value==0.1?'10⁻¹':''","tickSize":{"condition":{"test":"datum.value==0.1","value":3.5},"value":2},"title":"Logical Error Rate (pL)","labelFontSize":16,"titleFontSize":16,"titlePadding":8}},
   "y2":{"datum":0.995}}},
 {"data":{"name":"dist"},"mark":{"type":"point","filled":true,"size":28,"opacity":1},
  "encoding":{"x":{"field":"L","type":"quantitative","scale":{"type":"linear","domain":[6.6,103.6],"range":[334,734],"nice":false,"zero":false}},
   "y":{"field":"pl","type":"quantitative","scale":{"type":"log","domain":[0.0352,0.995],"range":[782,490],"nice":false}},
   "fill":{"field":"p","type":"nominal","scale":{"domain":[0.223,0.273,0.323],"range":["#1f77b4","#ff7f0e","#2ca02c"]},"legend":null}}},
 {"data":{"name":"legC"},"mark":{"type":"point","filled":true,"opacity":0},
  "encoding":{
   "color":{"field":"s","type":"nominal","scale":{"domain":["p = 0.223","p = 0.273","p = 0.323"],"range":["#1f77b4","#ff7f0e","#2ca02c"]},
     "legend":{"orient":"none","legendX":614,"legendY":602,"title":null,"padding":4,"symbolSize":225,"symbolOffset":9.5,"labelOffset":20.2,"rowPadding":5.5,"labelFontSize":15.5,"fillColor":"rgba(255,255,255,0.8)","strokeColor":"#cccccc","cornerRadius":3,"symbolOpacity":1,"symbolStrokeWidth":0}},
   "shape":{"field":"s","type":"nominal","scale":{"domain":["p = 0.223","p = 0.273","p = 0.323"],"range":["M-0.37,0A0.37,0.37 0 0 1 0.37,0A0.37,0.37 0 0 1 -0.37,0ZM-0.1,-1.07H0.1V1.07H-0.1Z","M-0.37,0A0.37,0.37 0 0 1 0.37,0A0.37,0.37 0 0 1 -0.37,0ZM-0.1,-1.07H0.1V1.07H-0.1Z","M-0.37,0A0.37,0.37 0 0 1 0.37,0A0.37,0.37 0 0 1 -0.37,0ZM-0.1,-1.07H0.1V1.07H-0.1Z"]},
     "legend":{"orient":"none","legendX":614,"legendY":602,"title":null,"padding":4,"symbolSize":225,"symbolOffset":9.5,"labelOffset":20.2,"rowPadding":5.5,"labelFontSize":15.5,"fillColor":"rgba(255,255,255,0.8)","strokeColor":"#cccccc","cornerRadius":3,"symbolOpacity":1,"symbolStrokeWidth":0}}}}
]}
],
"resolve":{"scale":{"x":"independent","y":"independent","color":"independent","fill":"independent","stroke":"independent","shape":"independent"},
 "axis":{"x":"independent","y":"independent"},
 "legend":{"color":"independent","fill":"independent","stroke":"independent","shape":"independent"}}
}
